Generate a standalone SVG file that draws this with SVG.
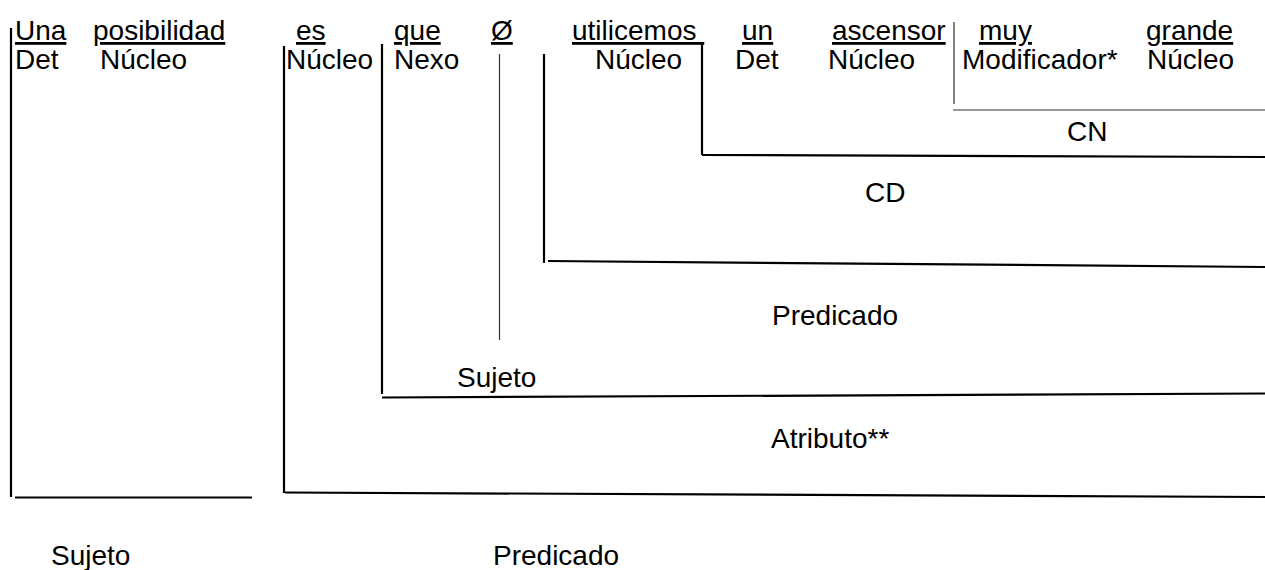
<svg xmlns="http://www.w3.org/2000/svg" width="1265" height="570" viewBox="0 0 1265 570">
<style>
text{font-family:"Liberation Sans",Arial,sans-serif;font-size:28px;fill:#000}
.u{text-decoration:underline}
.l{stroke:#000;stroke-width:2.2;fill:none}
.t{stroke:#333;stroke-width:1.2;fill:none}
</style>
<rect width="1265" height="570" fill="#fff"/>
<g id="words">
<text class="u" x="15" y="40">Una</text>
<text class="u" x="93" y="40">posibilidad</text>
<text class="u" x="296" y="40">es</text>
<text class="u" x="394" y="40">que</text>
<text class="u" x="491" y="40">Ø</text>
<text class="u" x="572" y="40" xml:space="preserve">utilicemos </text>
<text class="u" x="742" y="40">un</text>
<text class="u" x="832" y="40">ascensor</text>
<text class="u" x="979" y="40">muy</text>
<text class="u" x="1146" y="40">grande</text>
</g>
<g id="functions">
<text x="15" y="69">Det</text>
<text x="100" y="69">Núcleo</text>
<text x="286" y="69">Núcleo</text>
<text x="394" y="69">Nexo</text>
<text x="595" y="69">Núcleo</text>
<text x="735" y="69">Det</text>
<text x="828" y="69">Núcleo</text>
<text x="962" y="69">Modificador*</text>
<text x="1147" y="69">Núcleo</text>
</g>
<g id="connectors">
<path class="l" d="M11,28 V497"/>
<path class="l" d="M15,497.5 H252"/>
<path class="l" d="M284,46 V493"/>
<path class="l" d="M285,492.5 L1265,497"/>
<path class="l" d="M382,44 V394"/>
<path class="l" d="M382,397.5 L1265,393.5"/>
<path class="t" d="M499.5,54 V340"/>
<path class="l" d="M544,54 V263"/>
<path class="l" d="M548,261 L1265,267"/>
<path class="l" d="M702,42 V155"/>
<path class="l" d="M702,155 L1265,157"/>
<path class="t" d="M954,22 V104"/>
<path class="t" d="M953,110 H1265"/>
</g>
<g id="labels">
<text x="1067" y="141">CN</text>
<text x="865" y="202">CD</text>
<text x="772" y="325">Predicado</text>
<text x="457" y="387">Sujeto</text>
<text x="771" y="448">Atributo**</text>
<text x="51" y="565">Sujeto</text>
<text x="493" y="565">Predicado</text>
</g>
</svg>
